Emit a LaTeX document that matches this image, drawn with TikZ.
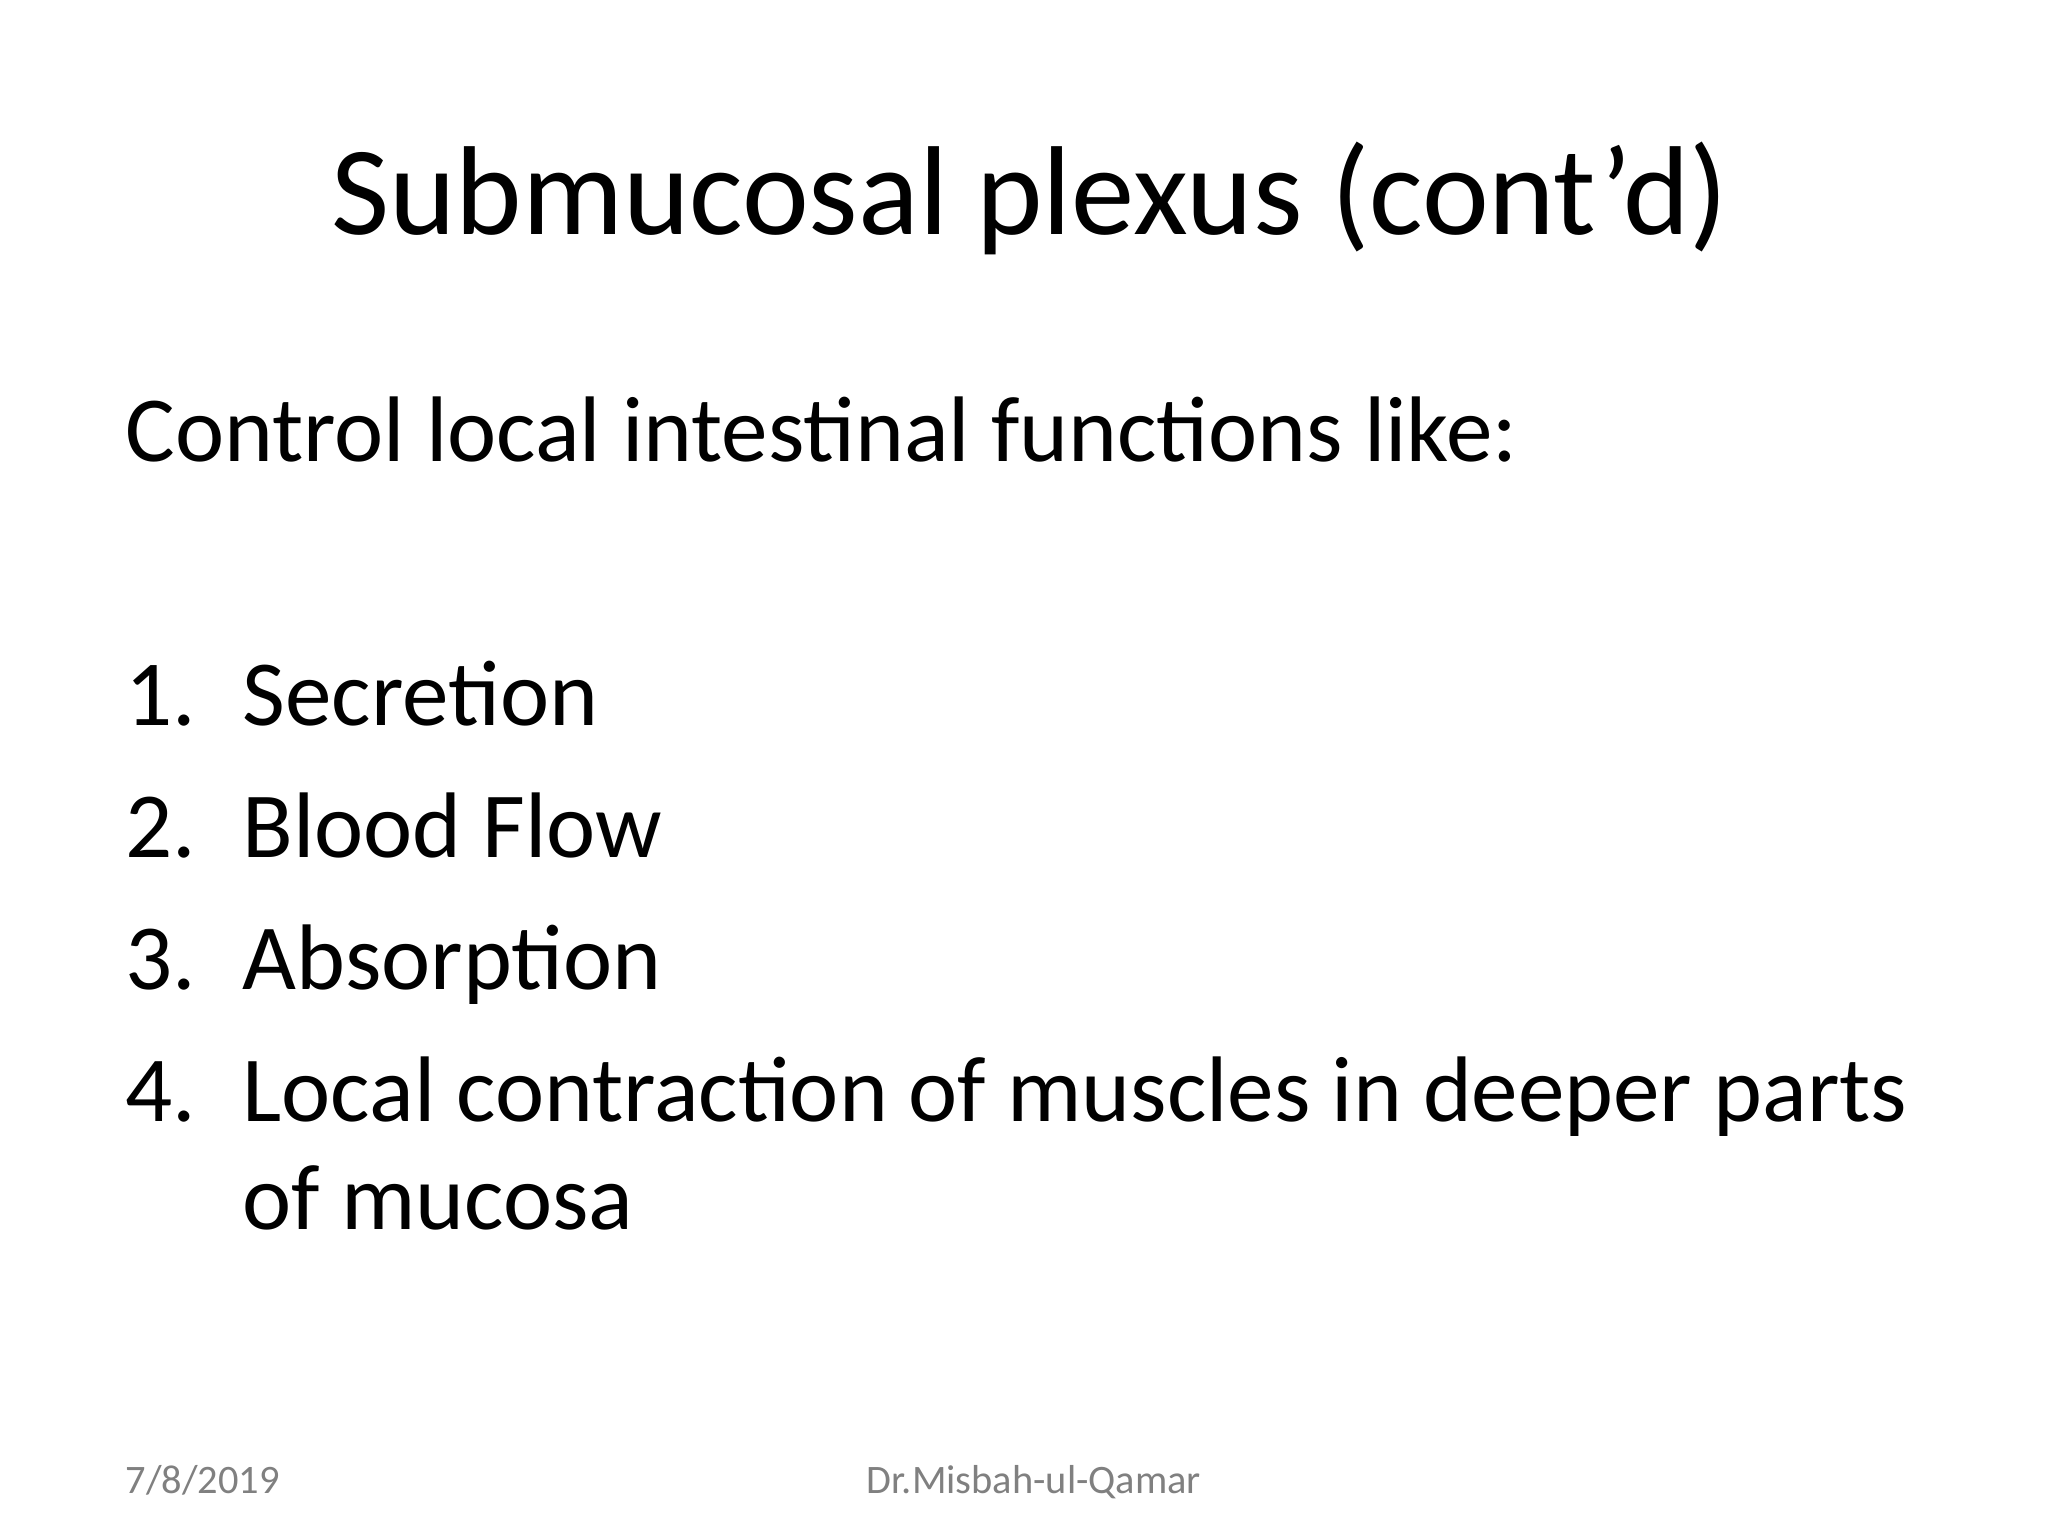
\documentclass[tikz,border=0pt]{standalone}
\usepackage{fontspec}
\setmainfont{Carlito}
\begin{document}
\begin{tikzpicture}[x=1cm,y=1cm,
  body/.style={anchor=base west,inner sep=0pt,font=\fontsize{26.5}{32}\selectfont},
  foot/.style={inner sep=0pt,text=black!50,font=\fontsize{11.5}{14}\selectfont}]
\useasboundingbox (0,0) rectangle (20.48,15.36);
\node[anchor=base,inner sep=0pt,font=\fontsize{36}{42}\selectfont] (title) at (10.30,13.01) {Submucosal plexus (cont’d)};
\node[body] (intro) at (1.25,10.74) {Control local intestinal functions like:};
\node[body] (n1) at (1.25,8.10) {1.}; \node[body] (t1) at (2.42,8.10) {Secretion};
\node[body] (n2) at (1.25,6.78) {2.}; \node[body] (t2) at (2.42,6.78) {Blood Flow};
\node[body] (n3) at (1.25,5.46) {3.}; \node[body] (t3) at (2.42,5.46) {Absorption};
\node[body] (n4) at (1.25,4.14) {4.}; \node[body] (t4) at (2.42,4.14) {Local contraction of muscles in deeper parts};
\node[body] (t4b) at (2.42,3.06) {of mucosa};
\node[foot,anchor=base west] (date) at (1.25,0.42) {7/8/2019};
\node[foot,anchor=base] (author) at (10.34,0.42) {Dr.Misbah-ul-Qamar};
\end{tikzpicture}
\end{document}
